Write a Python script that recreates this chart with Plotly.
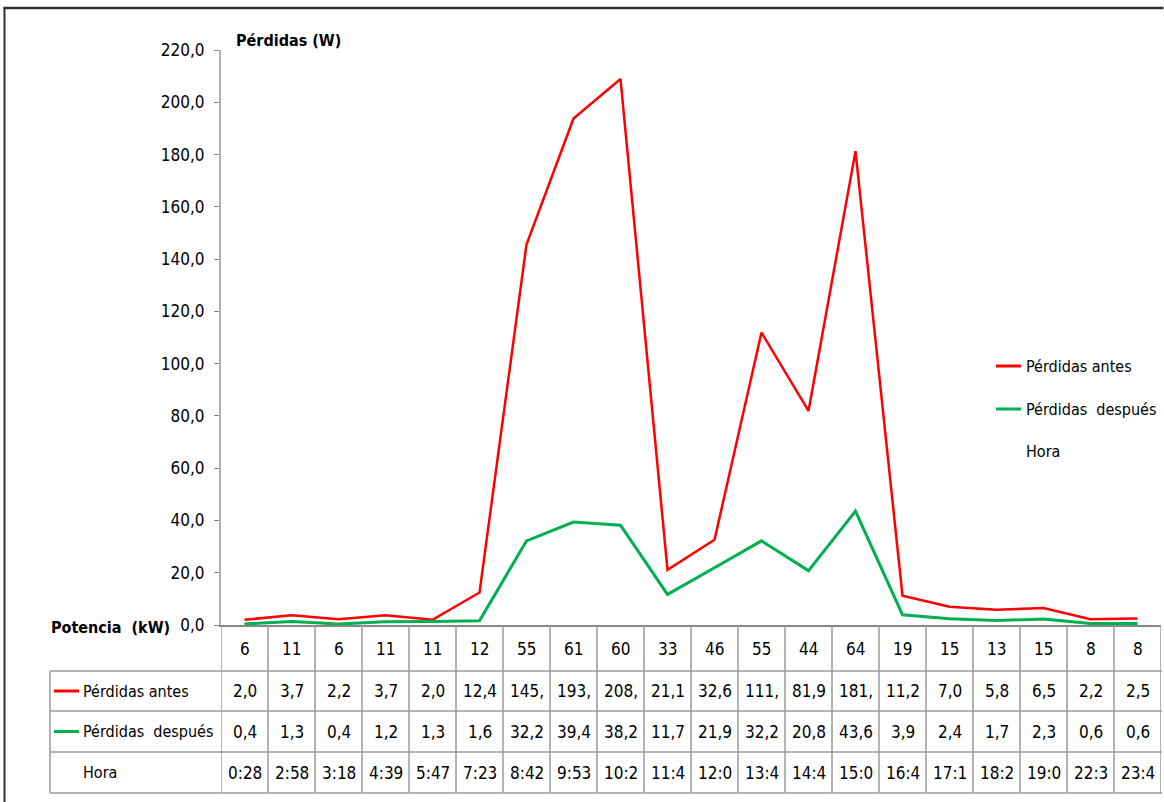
import plotly.graph_objects as go

# Potencia (kW) per reading, losses before / after, and reading time
potencia = [6, 11, 6, 11, 11, 12, 55, 61, 60, 33, 46, 55, 44, 64, 19, 15, 13, 15, 8, 8]
perdidas_antes = [2.0, 3.7, 2.2, 3.7, 2.0, 12.4, 145.6, 193.8, 208.9, 21.1,
                  32.6, 111.9, 81.9, 181.3, 11.2, 7.0, 5.8, 6.5, 2.2, 2.5]
perdidas_despues = [0.4, 1.3, 0.4, 1.2, 1.3, 1.6, 32.2, 39.4, 38.2, 11.7,
                    21.9, 32.2, 20.8, 43.6, 3.9, 2.4, 1.7, 2.3, 0.6, 0.6]
hora = ["0:28", "2:58", "3:18", "4:39", "5:47", "7:23", "8:42", "9:53", "10:2", "11:4",
        "12:0", "13:4", "14:4", "15:0", "16:4", "17:1", "18:2", "19:0", "22:3", "23:4"]
y_ticks = [0, 20, 40, 60, 80, 100, 120, 140, 160, 180, 200, 220]

W, H = 1164, 802
FONT = "DejaVu Sans Condensed, Liberation Sans Narrow, Arial Narrow, sans-serif"
RED = "#ff0000"
GREEN = "#00b050"
GRID = "#9a9a9a"
FRAME = "#333333"


def fx(px):
    return px / W


def fy(py):
    return 1 - py / H


def cell_text(v):
    # table cells are narrow: only the first four characters fit
    return f"{v:.1f}".replace(".", ",")[:4]


n = len(potencia)
cats = list(range(n))

PLOT_L, PLOT_R = 221, 1161
AXIS_Y, TOP_Y = 625, 50
ROWS = [625, 671, 711, 752, 793]
TABLE_L = 50

series = [("Pérdidas antes", perdidas_antes, RED, 2.5),
          ("Pérdidas  después", perdidas_despues, GREEN, 3)]

fig = go.Figure()
for name, vals, col, w in series:
    fig.add_trace(go.Scatter(x=cats, y=vals, mode="lines", name=name,
                             line=dict(color=col, width=w), showlegend=False))

shapes = []
annotations = []


def label(x, y, text, size=16, anchor="left"):
    annotations.append(dict(xref="paper", yref="paper", x=fx(x), y=fy(y), text=text,
                            showarrow=False, xanchor=anchor, yanchor="middle",
                            font=dict(family=FONT, size=size, color="black")))


def hline(x0, x1, y, col, w):
    shapes.append(dict(type="line", xref="paper", yref="paper", x0=fx(x0), x1=fx(x1),
                       y0=fy(y), y1=fy(y), line=dict(color=col, width=w)))


def vline(x, y0, y1, col, w):
    shapes.append(dict(type="line", xref="paper", yref="paper", x0=fx(x), x1=fx(x),
                       y0=fy(y0), y1=fy(y1), line=dict(color=col, width=w)))


# table grid: vertical separators between categories
for i in range(n + 1):
    shapes.append(dict(type="line", xref="x", yref="paper", x0=i - 0.5, x1=i - 0.5,
                       y0=fy(ROWS[0]), y1=fy(ROWS[-1]), line=dict(color=GRID, width=1.5)))
# horizontal row lines and left border of the labelled rows
for r in ROWS[1:]:
    hline(TABLE_L, PLOT_R + 1, r, GRID, 1.5)
vline(TABLE_L, ROWS[1], ROWS[-1], GRID, 1.5)

# chart frame (top and left edges)
hline(3.5, W - 0.5, 8, FRAME, 2.5)
vline(4.5, 7, H, FRAME, 2)

# row labels with their keys
row_labels = [s[0] for s in series] + ["Hora"]
row_cols = [s[2] for s in series] + [None]
for k, (lab, col) in enumerate(zip(row_labels, row_cols)):
    yc = (ROWS[k + 1] + ROWS[k + 2]) / 2
    if col:
        hline(54, 79, yc, col, 3)
    label(81, yc, lab)

# cell values
rows_text = [
    [str(p) for p in potencia],
    [cell_text(v) for v in perdidas_antes],
    [cell_text(v) for v in perdidas_despues],
    hora,
]
centers = [(ROWS[k] + ROWS[k + 1]) / 2 + (1 if k == 0 else 0) for k in range(4)]
for k, texts in enumerate(rows_text):
    for i, t in enumerate(texts):
        annotations.append(dict(xref="x", yref="paper", x=i, y=fy(centers[k]), text=t,
                                showarrow=False, xanchor="center", yanchor="middle",
                                font=dict(family=FONT, size=17, color="black")))

# axis captions
label(234, 40, "<b>Pérdidas (W)</b>")
label(172, 627, "<b>Potencia  (kW)</b>", anchor="right")

# legend
for (lab, col), yy in zip(zip(row_labels, row_cols), [366, 409, 451]):
    if col:
        hline(996, 1021, yy, col, 3)
    label(1024, yy, lab)

fig.update_layout(
    width=W, height=H,
    margin=dict(l=0, r=0, t=0, b=0, autoexpand=False),
    paper_bgcolor="white", plot_bgcolor="white",
    separators=",.",
    showlegend=False,
    xaxis=dict(domain=[fx(PLOT_L), fx(PLOT_R)], range=[-0.5, n - 0.5], automargin=False,
               showticklabels=False, ticks="", showgrid=False, zeroline=False,
               showline=True, linecolor="#868686", linewidth=2, fixedrange=True),
    yaxis=dict(domain=[fy(AXIS_Y), fy(TOP_Y)], range=[0, 220], automargin=False,
               tickvals=y_ticks, tickformat=".1f", ticks="outside", ticklen=5,
               tickcolor="#868686", showline=True, linecolor="#b0b0b0", linewidth=2,
               showgrid=False, zeroline=False, ticklabelstandoff=6,
               tickfont=dict(family=FONT, size=17, color="black"), fixedrange=True),
    shapes=shapes,
    annotations=annotations,
)

fig.write_html(
    "out.html",
    post_script="document.body.style.margin='0';document.body.style.overflow='hidden';",
)
